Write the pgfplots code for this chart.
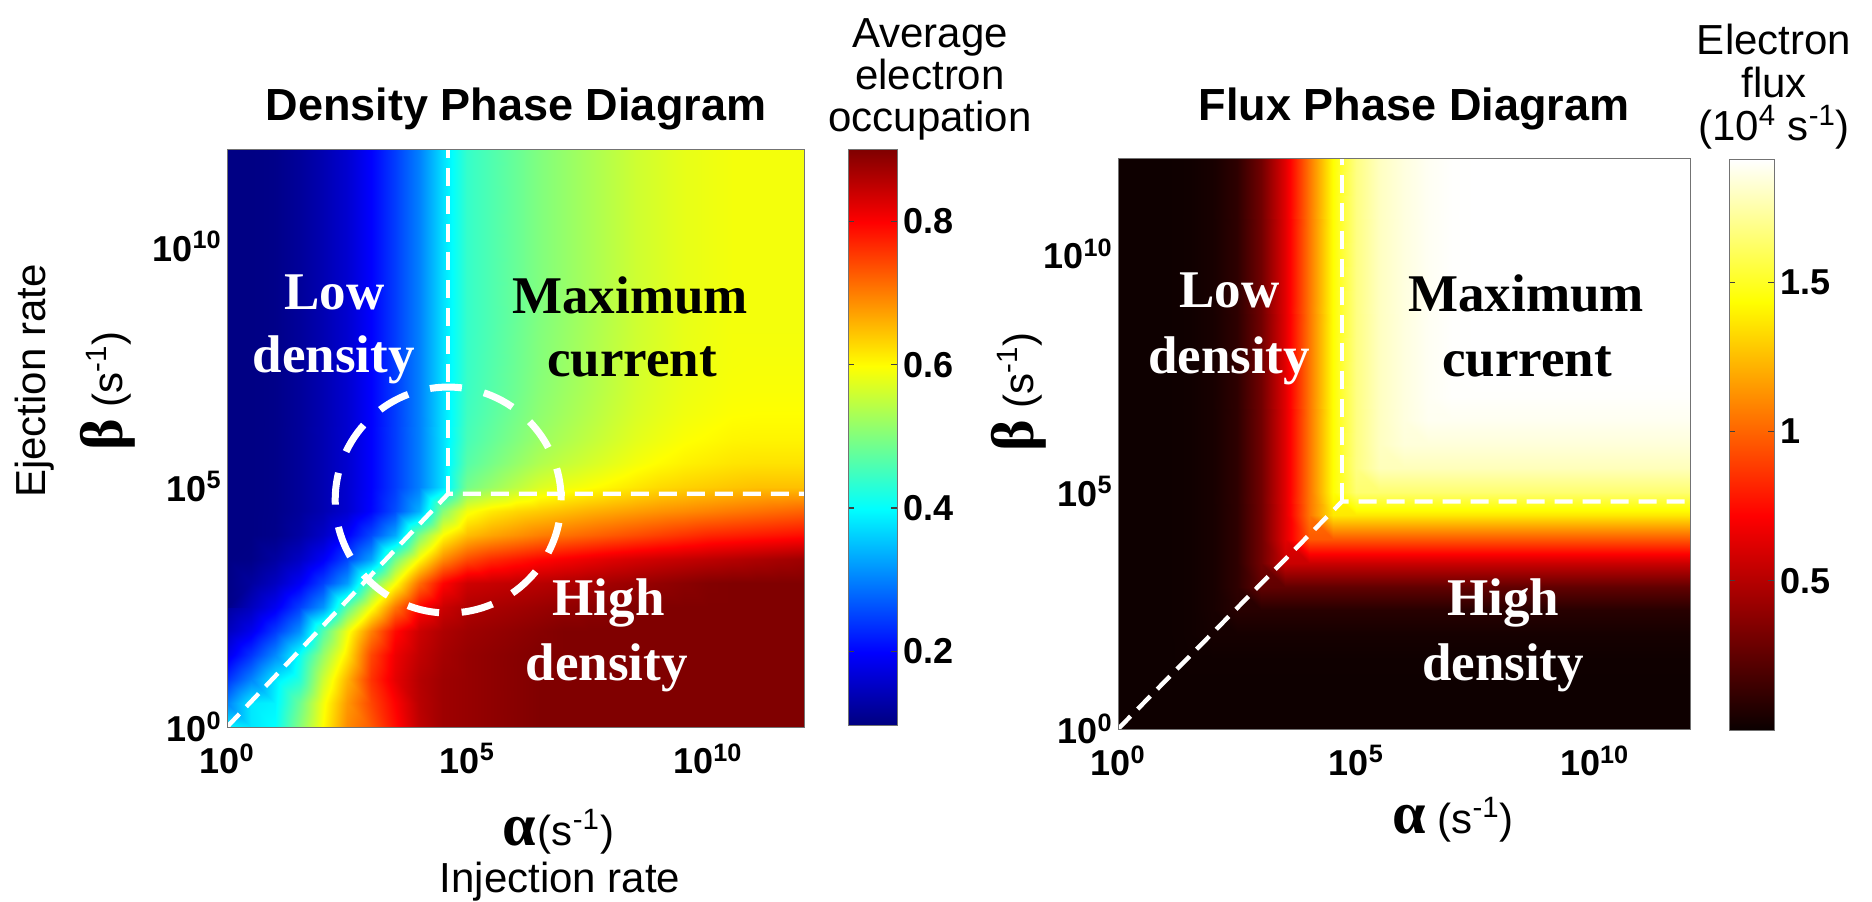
\documentclass[border=0pt]{standalone}
\usepackage{pgfplots}
\usepackage{pgfplotstable}
\pgfplotsset{compat=1.18}
\usepackage{fontspec}
\setmainfont{Liberation Sans}
\newfontfamily\seriffam{Liberation Serif}

\newcommand\tickfont{\fontsize{18}{20}\selectfont\bfseries}
\newcommand\titlefont{\fontsize{22.5}{26}\selectfont\bfseries}
\newcommand\labelfont{\fontsize{21}{24}\selectfont}
\newcommand\regionfont{\seriffam\bfseries\fontsize{26.5}{30}\selectfont}
\newcommand\grk[1]{{\seriffam\bfseries\fontsize{30}{30}\selectfont #1}}
\newcommand\pw[1]{10\textsuperscript{#1}}

% MATLAB-like "hot" map: black -> red -> yellow -> white
\pgfplotsset{
  colormap={mhot}{rgb(0cm)=(0.0417,0,0); rgb(3cm)=(1,0,0); rgb(6cm)=(1,1,0); rgb(8cm)=(1,1,1)},
  phase/.style={
    scale only axis,
    xmin=0, xmax=12, ymin=0, ymax=12,
    xtick={0,5,10}, ytick={0,5,10},
    xticklabels={\pw{0},\pw{5},\pw{10}},
    yticklabels={\pw{0},\pw{5},\pw{10}},
    major tick length=0pt,
    tick label style={font=\tickfont},
    xticklabel style={anchor=north, inner sep=0pt, yshift=-8pt},
    yticklabel style={anchor=east, inner sep=0pt, xshift=-2.5pt},
    axis line style={draw=black!55, line width=0.5pt},
    axis on top,
  },
  cbar/.style={
    scale only axis, anchor=south west,
    xmin=0, xmax=1,
    xtick=\empty,
    ytick pos=both, yticklabel pos=right,
    tick align=inside,
    major tick length=3pt,
    major tick style={black!75, line width=0.6pt},
    yticklabel style={font=\tickfont, anchor=west, inner sep=0pt, xshift=3pt},
    axis line style={draw=black!55, line width=0.5pt},
    axis on top,
  },
  boundary/.style={white, line width=2.2pt, dash pattern=on 9pt off 5pt},
}

% Grids: 25 x 25 points, log10(alpha) = 0,0.5,...,12 varies fastest,
% then log10(beta) = 0,0.5,...,12 (one line per beta value).
\pgfplotstableread[row sep=\\]{
rho\\
0.39\\0.38\\0.40\\0.50\\0.60\\ 0.69\\0.73\\0.79\\0.85\\0.876\\ 0.882\\0.888\\0.894\\0.9\\0.9\\ 0.9\\0.9\\0.9\\0.9\\0.9\\ 0.9\\0.9\\0.9\\0.9\\0.9\\
0.30\\0.38\\0.39\\0.48\\0.59\\ 0.68\\0.745\\0.80\\0.855\\0.876\\ 0.882\\0.888\\0.894\\0.9\\0.9\\ 0.9\\0.9\\0.9\\0.9\\0.9\\ 0.9\\0.9\\0.9\\0.9\\0.9\\
0.235\\0.30\\0.38\\0.424\\0.558\\ 0.658\\0.76\\0.82\\0.858\\0.876\\ 0.882\\0.888\\0.894\\0.9\\0.9\\ 0.9\\0.9\\0.9\\0.9\\0.9\\ 0.9\\0.9\\0.9\\0.9\\0.9\\
0.18\\0.238\\0.306\\0.403\\0.517\\ 0.617\\0.744\\0.813\\0.849\\0.871\\ 0.882\\0.888\\0.894\\0.9\\0.9\\ 0.9\\0.9\\0.9\\0.9\\0.9\\ 0.9\\0.9\\0.9\\0.9\\0.9\\
0.145\\0.183\\0.242\\0.31\\0.463\\ 0.586\\0.698\\0.792\\0.84\\0.864\\ 0.876\\0.882\\0.888\\0.894\\0.9\\ 0.9\\0.9\\0.9\\0.9\\0.9\\ 0.9\\0.9\\0.9\\0.9\\0.9\\
0.12\\0.146\\0.186\\0.245\\0.315\\ 0.471\\0.59\\0.706\\0.795\\0.841\\ 0.861\\0.867\\0.873\\0.879\\0.885\\ 0.891\\0.897\\0.9\\0.9\\0.9\\ 0.9\\0.9\\0.9\\0.9\\0.9\\
0.103\\0.121\\0.148\\0.189\\0.248\\ 0.32\\0.479\\0.595\\0.714\\0.798\\ 0.838\\0.844\\0.85\\0.856\\0.862\\ 0.868\\0.874\\0.88\\0.886\\0.892\\ 0.898\\0.9\\0.9\\0.9\\0.9\\
0.10\\0.103\\0.123\\0.15\\0.191\\ 0.251\\0.325\\0.487\\0.599\\0.69\\ 0.74\\0.765\\0.78\\0.795\\0.805\\ 0.815\\0.825\\0.833\\0.84\\0.846\\ 0.852\\0.858\\0.864\\0.87\\0.876\\
0.10\\0.10\\0.105\\0.124\\0.152\\ 0.194\\0.254\\0.33\\0.496\\0.60\\ 0.65\\0.67\\0.685\\0.70\\0.71\\ 0.72\\0.73\\0.74\\0.75\\0.76\\ 0.77\\0.775\\0.78\\0.785\\0.79\\
0.10\\0.10\\0.104\\0.117\\0.136\\ 0.16\\0.20\\0.258\\0.336\\0.504\\ 0.59\\0.615\\0.63\\0.64\\0.65\\ 0.66\\0.668\\0.676\\0.684\\0.69\\ 0.697\\0.704\\0.71\\0.716\\0.722\\
0.10\\0.10\\0.104\\0.117\\0.136\\ 0.16\\0.197\\0.245\\0.298\\0.374\\ 0.49\\0.518\\0.546\\0.571\\0.586\\ 0.596\\0.607\\0.618\\0.628\\0.634\\ 0.639\\0.644\\0.648\\0.648\\0.648\\
0.10\\0.10\\0.104\\0.117\\0.136\\ 0.16\\0.197\\0.245\\0.298\\0.374\\ 0.466\\0.491\\0.515\\0.537\\0.552\\ 0.565\\0.578\\0.591\\0.601\\0.609\\ 0.614\\0.619\\0.621\\0.621\\0.621\\
0.10\\0.10\\0.104\\0.117\\0.136\\ 0.16\\0.197\\0.245\\0.298\\0.374\\ 0.454\\0.477\\0.499\\0.52\\0.535\\ 0.549\\0.563\\0.577\\0.587\\0.596\\ 0.601\\0.606\\0.607\\0.607\\0.607\\
0.10\\0.10\\0.104\\0.117\\0.136\\ 0.16\\0.197\\0.245\\0.298\\0.374\\ 0.448\\0.469\\0.49\\0.511\\0.526\\ 0.54\\0.555\\0.569\\0.579\\0.588\\ 0.593\\0.598\\0.599\\0.599\\0.599\\
0.10\\0.10\\0.104\\0.117\\0.136\\ 0.16\\0.197\\0.245\\0.298\\0.374\\ 0.444\\0.465\\0.485\\0.506\\0.521\\ 0.535\\0.55\\0.565\\0.575\\0.584\\ 0.589\\0.594\\0.595\\0.595\\0.595\\
0.10\\0.10\\0.104\\0.117\\0.136\\ 0.16\\0.197\\0.245\\0.298\\0.374\\ 0.442\\0.463\\0.483\\0.503\\0.518\\ 0.533\\0.548\\0.563\\0.573\\0.582\\ 0.587\\0.592\\0.593\\0.593\\0.593\\
0.10\\0.10\\0.104\\0.117\\0.136\\ 0.16\\0.197\\0.245\\0.298\\0.374\\ 0.441\\0.461\\0.482\\0.502\\0.517\\ 0.532\\0.547\\0.561\\0.571\\0.581\\ 0.586\\0.591\\0.591\\0.591\\0.591\\
0.10\\0.10\\0.104\\0.117\\0.136\\ 0.16\\0.197\\0.245\\0.298\\0.374\\ 0.44\\0.46\\0.48\\0.50\\0.515\\ 0.53\\0.545\\0.56\\0.57\\0.58\\ 0.585\\0.59\\0.59\\0.59\\0.59\\
0.10\\0.10\\0.104\\0.117\\0.136\\ 0.16\\0.197\\0.245\\0.298\\0.374\\ 0.44\\0.46\\0.48\\0.50\\0.515\\ 0.53\\0.545\\0.56\\0.57\\0.58\\ 0.585\\0.59\\0.59\\0.59\\0.59\\
0.10\\0.10\\0.104\\0.117\\0.136\\ 0.16\\0.197\\0.245\\0.298\\0.374\\ 0.44\\0.46\\0.48\\0.50\\0.515\\ 0.53\\0.545\\0.56\\0.57\\0.58\\ 0.585\\0.59\\0.59\\0.59\\0.59\\
0.10\\0.10\\0.104\\0.117\\0.136\\ 0.16\\0.197\\0.245\\0.298\\0.374\\ 0.44\\0.46\\0.48\\0.50\\0.515\\ 0.53\\0.545\\0.56\\0.57\\0.58\\ 0.585\\0.59\\0.59\\0.59\\0.59\\
0.10\\0.10\\0.104\\0.117\\0.136\\ 0.16\\0.197\\0.245\\0.298\\0.374\\ 0.44\\0.46\\0.48\\0.50\\0.515\\ 0.53\\0.545\\0.56\\0.57\\0.58\\ 0.585\\0.59\\0.59\\0.59\\0.59\\
0.10\\0.10\\0.104\\0.117\\0.136\\ 0.16\\0.197\\0.245\\0.298\\0.374\\ 0.44\\0.46\\0.48\\0.50\\0.515\\ 0.53\\0.545\\0.56\\0.57\\0.58\\ 0.585\\0.59\\0.59\\0.59\\0.59\\
0.10\\0.10\\0.104\\0.117\\0.136\\ 0.16\\0.197\\0.245\\0.298\\0.374\\ 0.44\\0.46\\0.48\\0.50\\0.515\\ 0.53\\0.545\\0.56\\0.57\\0.58\\ 0.585\\0.59\\0.59\\0.59\\0.59\\
0.10\\0.10\\0.104\\0.117\\0.136\\ 0.16\\0.197\\0.245\\0.298\\0.374\\ 0.44\\0.46\\0.48\\0.50\\0.515\\ 0.53\\0.545\\0.56\\0.57\\0.58\\ 0.585\\0.59\\0.59\\0.59\\0.59\\
}\densgrid

\pgfplotstableread[row sep=\\]{
flux\\
0.01\\0.01\\0.01\\0.01\\0.01\\ 0.01\\0.01\\0.01\\0.01\\0.01\\ 0.01\\0.01\\0.01\\0.01\\0.01\\ 0.01\\0.01\\0.01\\0.01\\0.01\\ 0.01\\0.01\\0.01\\0.01\\0.01\\
0.01\\0.01\\0.01\\0.01\\0.01\\ 0.01\\0.01\\0.01\\0.01\\0.01\\ 0.01\\0.01\\0.01\\0.01\\0.01\\ 0.01\\0.01\\0.01\\0.01\\0.01\\ 0.01\\0.01\\0.01\\0.01\\0.01\\
0.01\\0.01\\0.01\\0.01\\0.01\\ 0.01\\0.01\\0.01\\0.01\\0.01\\ 0.01\\0.01\\0.01\\0.01\\0.01\\ 0.01\\0.01\\0.01\\0.01\\0.01\\ 0.01\\0.01\\0.01\\0.01\\0.01\\
0.01\\0.01\\0.01\\0.014\\0.014\\ 0.014\\0.014\\0.014\\0.014\\0.014\\ 0.014\\0.014\\0.014\\0.014\\0.014\\ 0.014\\0.014\\0.014\\0.014\\0.014\\ 0.014\\0.014\\0.014\\0.014\\0.014\\
0.01\\0.01\\0.01\\0.016\\0.033\\ 0.033\\0.033\\0.033\\0.033\\0.033\\ 0.033\\0.033\\0.033\\0.033\\0.033\\ 0.033\\0.033\\0.033\\0.033\\0.033\\ 0.033\\0.033\\0.033\\0.033\\0.033\\
0.01\\0.01\\0.01\\0.016\\0.038\\ 0.084\\0.084\\0.084\\0.084\\0.084\\ 0.084\\0.084\\0.084\\0.084\\0.084\\ 0.084\\0.084\\0.084\\0.084\\0.084\\ 0.084\\0.084\\0.084\\0.084\\0.084\\
0.01\\0.01\\0.01\\0.016\\0.038\\ 0.104\\0.252\\0.252\\0.252\\0.252\\ 0.252\\0.252\\0.252\\0.252\\0.252\\ 0.252\\0.252\\0.252\\0.252\\0.252\\ 0.252\\0.252\\0.252\\0.252\\0.252\\
0.01\\0.01\\0.01\\0.016\\0.038\\ 0.104\\0.298\\0.561\\0.561\\0.561\\ 0.561\\0.561\\0.561\\0.561\\0.561\\ 0.561\\0.561\\0.561\\0.561\\0.561\\ 0.561\\0.561\\0.561\\0.561\\0.561\\
0.01\\0.01\\0.01\\0.016\\0.038\\ 0.104\\0.298\\0.628\\0.965\\0.965\\ 0.965\\0.965\\0.965\\0.965\\0.965\\ 0.965\\0.965\\0.965\\0.965\\0.965\\ 0.965\\0.965\\0.965\\0.965\\0.965\\
0.01\\0.01\\0.01\\0.016\\0.038\\ 0.104\\0.298\\0.628\\1.044\\1.371\\ 1.371\\1.371\\1.371\\1.371\\1.371\\ 1.371\\1.371\\1.371\\1.371\\1.371\\ 1.371\\1.371\\1.371\\1.371\\1.371\\
0.01\\0.01\\0.01\\0.016\\0.038\\ 0.104\\0.298\\0.628\\1.044\\1.436\\ 1.642\\1.642\\1.642\\1.642\\1.642\\ 1.642\\1.642\\1.642\\1.642\\1.642\\ 1.642\\1.642\\1.642\\1.642\\1.642\\
0.01\\0.01\\0.01\\0.016\\0.038\\ 0.104\\0.298\\0.628\\1.044\\1.436\\ 1.676\\1.782\\1.782\\1.782\\1.782\\ 1.782\\1.782\\1.782\\1.782\\1.782\\ 1.782\\1.782\\1.782\\1.782\\1.782\\
0.01\\0.01\\0.01\\0.016\\0.038\\ 0.104\\0.298\\0.628\\1.044\\1.436\\ 1.676\\1.796\\1.841\\1.841\\1.841\\ 1.841\\1.841\\1.841\\1.841\\1.841\\ 1.841\\1.841\\1.841\\1.841\\1.841\\
0.01\\0.01\\0.01\\0.016\\0.038\\ 0.104\\0.298\\0.628\\1.044\\1.436\\ 1.676\\1.796\\1.85\\1.883\\1.883\\ 1.883\\1.883\\1.883\\1.883\\1.883\\ 1.883\\1.883\\1.883\\1.883\\1.883\\
0.01\\0.01\\0.01\\0.016\\0.038\\ 0.104\\0.298\\0.628\\1.044\\1.436\\ 1.676\\1.796\\1.85\\1.888\\1.904\\ 1.904\\1.904\\1.904\\1.904\\1.904\\ 1.904\\1.904\\1.904\\1.904\\1.904\\
0.01\\0.01\\0.01\\0.016\\0.038\\ 0.104\\0.298\\0.628\\1.044\\1.436\\ 1.676\\1.796\\1.85\\1.888\\1.906\\ 1.91\\1.91\\1.91\\1.91\\1.91\\ 1.91\\1.91\\1.91\\1.91\\1.91\\
0.01\\0.01\\0.01\\0.016\\0.038\\ 0.104\\0.298\\0.628\\1.044\\1.436\\ 1.676\\1.796\\1.85\\1.888\\1.906\\ 1.91\\1.91\\1.91\\1.91\\1.91\\ 1.91\\1.91\\1.91\\1.91\\1.91\\
0.01\\0.01\\0.01\\0.016\\0.038\\ 0.104\\0.298\\0.628\\1.044\\1.436\\ 1.676\\1.796\\1.85\\1.888\\1.906\\ 1.91\\1.91\\1.91\\1.91\\1.91\\ 1.91\\1.91\\1.91\\1.91\\1.91\\
0.01\\0.01\\0.01\\0.016\\0.038\\ 0.104\\0.298\\0.628\\1.044\\1.436\\ 1.676\\1.796\\1.85\\1.888\\1.906\\ 1.91\\1.91\\1.91\\1.91\\1.91\\ 1.91\\1.91\\1.91\\1.91\\1.91\\
0.01\\0.01\\0.01\\0.016\\0.038\\ 0.104\\0.298\\0.628\\1.044\\1.436\\ 1.676\\1.796\\1.85\\1.888\\1.906\\ 1.91\\1.91\\1.91\\1.91\\1.91\\ 1.91\\1.91\\1.91\\1.91\\1.91\\
0.01\\0.01\\0.01\\0.016\\0.038\\ 0.104\\0.298\\0.628\\1.044\\1.436\\ 1.676\\1.796\\1.85\\1.888\\1.906\\ 1.91\\1.91\\1.91\\1.91\\1.91\\ 1.91\\1.91\\1.91\\1.91\\1.91\\
0.01\\0.01\\0.01\\0.016\\0.038\\ 0.104\\0.298\\0.628\\1.044\\1.436\\ 1.676\\1.796\\1.85\\1.888\\1.906\\ 1.91\\1.91\\1.91\\1.91\\1.91\\ 1.91\\1.91\\1.91\\1.91\\1.91\\
0.01\\0.01\\0.01\\0.016\\0.038\\ 0.104\\0.298\\0.628\\1.044\\1.436\\ 1.676\\1.796\\1.85\\1.888\\1.906\\ 1.91\\1.91\\1.91\\1.91\\1.91\\ 1.91\\1.91\\1.91\\1.91\\1.91\\
0.01\\0.01\\0.01\\0.016\\0.038\\ 0.104\\0.298\\0.628\\1.044\\1.436\\ 1.676\\1.796\\1.85\\1.888\\1.906\\ 1.91\\1.91\\1.91\\1.91\\1.91\\ 1.91\\1.91\\1.91\\1.91\\1.91\\
0.01\\0.01\\0.01\\0.016\\0.038\\ 0.104\\0.298\\0.628\\1.044\\1.436\\ 1.676\\1.796\\1.85\\1.888\\1.906\\ 1.91\\1.91\\1.91\\1.91\\1.91\\ 1.91\\1.91\\1.91\\1.91\\1.91\\
}\fluxgrid

% grid coordinates (log10 of the rates) attached to both tables
\pgfplotstablecreatecol[create col/expr={0.5*mod(\pgfplotstablerow,25)}]{la}{\densgrid}
\pgfplotstablecreatecol[create col/expr={0.5*floor(\pgfplotstablerow/25)}]{lb}{\densgrid}
\pgfplotstablecreatecol[create col/expr={0.5*mod(\pgfplotstablerow,25)}]{la}{\fluxgrid}
\pgfplotstablecreatecol[create col/expr={0.5*floor(\pgfplotstablerow/25)}]{lb}{\fluxgrid}

\begin{document}
\begin{tikzpicture}
\useasboundingbox (0pt,0pt) rectangle (936pt,450.5pt);

% ---------------- density phase diagram ----------------
\begin{axis}[phase,
  at={(113.5pt,87pt)}, anchor=south west,
  width=288.5pt, height=288.5pt,
  colormap/jet,
  point meta min=0.097, point meta max=0.9,
]
\addplot[surf, shader=interp, mesh/cols=25, point meta=explicit]
  table[x=la, y=lb, meta=rho] {\densgrid};
\addplot[boundary] coordinates {(0,0) (4.6,4.85) (12,4.85)};
\addplot[boundary] coordinates {(4.6,4.85) (4.6,12)};
\draw[white, line width=3.5pt, dash pattern=on 16pt off 11.3pt]
  (axis cs:4.6,4.72) circle[radius=56.5pt];
\end{axis}

% colour scale: average electron occupation (jet knots)
\begin{axis}[cbar,
  at={(424pt,88pt)}, width=24.5pt, height=287.5pt,
  ymin=0.097, ymax=0.9,
  colormap/jet, point meta min=0.097, point meta max=0.9,
  ytick={0.2,0.4,0.6,0.8}, yticklabels={0.2,0.4,0.6,0.8},
]
\addplot[surf, shader=interp, mesh/cols=2, point meta=y] coordinates {
  (0,0.097) (1,0.097)
  (0,0.197) (1,0.197)
  (0,0.398) (1,0.398)
  (0,0.599) (1,0.599)
  (0,0.800) (1,0.800)
  (0,0.900) (1,0.900)
};
\end{axis}

% ---------------- flux phase diagram ----------------
\begin{axis}[phase,
  at={(559pt,86pt)}, anchor=south west,
  width=286pt, height=285pt,
  colormap name=mhot,
  point meta min=0, point meta max=1.91,
  clip=false,
]
\addplot[surf, shader=interp, mesh/cols=25, point meta=explicit]
  table[x=la, y=lb, meta=flux] {\fluxgrid};
\addplot[boundary] coordinates {(0,0) (4.7,4.79) (12.1,4.79)};
\addplot[boundary] coordinates {(4.7,4.79) (4.7,12)};
\end{axis}

% colour scale: electron flux (hot knots)
\begin{axis}[cbar,
  at={(864.5pt,85.5pt)}, width=22.5pt, height=285pt,
  ymin=0, ymax=1.91,
  colormap name=mhot, point meta min=0, point meta max=1.91,
  ytick={0.5,1,1.5}, yticklabels={0.5,1,1.5},
]
\addplot[surf, shader=interp, mesh/cols=2, point meta=y] coordinates {
  (0,0) (1,0)
  (0,0.716) (1,0.716)
  (0,1.4325) (1,1.4325)
  (0,1.91) (1,1.91)
};
\end{axis}

% ---------------- titles and labels ----------------
\node[font=\titlefont, anchor=base] at (258pt,390pt) {Density Phase Diagram};
\node[font=\titlefont, anchor=base] at (707pt,390pt) {Flux Phase Diagram};

\node[font=\labelfont, anchor=base] at (465pt,426.5pt) {Average};
\node[font=\labelfont, anchor=base] at (465pt,405.5pt) {electron};
\node[font=\labelfont, anchor=base] at (465pt,384.5pt) {occupation};
\node[font=\labelfont, anchor=base] at (887pt,423pt) {Electron};
\node[font=\labelfont, anchor=base] at (887pt,401.5pt) {flux};
\node[font=\labelfont, anchor=base] at (887pt,380pt) {(10\textsuperscript{4} s\textsuperscript{-1})};

\node[font=\labelfont, anchor=base west, inner sep=0pt] at (251pt,28pt) {\grk{α}\kern1pt(s\textsuperscript{-1})};
\node[font=\labelfont, anchor=base] at (280pt,4.5pt) {Injection rate};
\node[font=\labelfont, anchor=base west, inner sep=0pt] at (696pt,34pt) {\grk{α} (s\textsuperscript{-1})};

\node[font=\labelfont, rotate=90, anchor=base] at (22.5pt,260pt) {Ejection rate};
\node[font=\labelfont, rotate=90, anchor=base] at (61pt,255pt) {\grk{β} (s\textsuperscript{-1})};
\node[font=\labelfont, rotate=90, anchor=base] at (516.5pt,254.5pt) {\grk{β} (s\textsuperscript{-1})};

% region names
\node[font=\regionfont, text=white, anchor=base] at (167.3pt,295.5pt) {Low};
\node[font=\regionfont, text=white, anchor=base] at (166.8pt,264.5pt) {density};
\node[font=\regionfont, text=black, anchor=base] at (315pt,294pt) {Maximum};
\node[font=\regionfont, text=black, anchor=base] at (316pt,262pt) {current};
\node[font=\regionfont, text=white, anchor=base] at (304.3pt,143pt) {High};
\node[font=\regionfont, text=white, anchor=base] at (303.3pt,110.5pt) {density};

\node[font=\regionfont, text=white, anchor=base] at (614.8pt,296.5pt) {Low};
\node[font=\regionfont, text=white, anchor=base] at (614.5pt,264pt) {density};
\node[font=\regionfont, text=black, anchor=base] at (763pt,294.5pt) {Maximum};
\node[font=\regionfont, text=black, anchor=base] at (763.5pt,262pt) {current};
\node[font=\regionfont, text=white, anchor=base] at (751.5pt,143pt) {High};
\node[font=\regionfont, text=white, anchor=base] at (751.5pt,110.5pt) {density};
\end{tikzpicture}
\end{document}
